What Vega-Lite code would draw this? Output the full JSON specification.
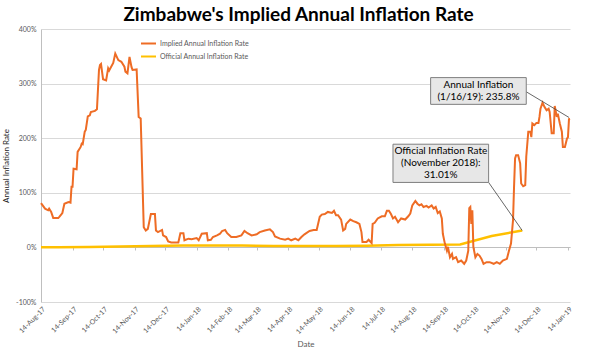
{
  "$schema": "https://vega.github.io/schema/vega-lite/v6.json",
  "width": 529,
  "height": 273,
  "autosize": {"type": "none"},
  "padding": {"left": 41, "top": 29, "right": 30, "bottom": 52},
  "background": "white",
  "title": {"text": "Zimbabwe's Implied Annual Inflation Rate", "font": "Lato", "fontSize": 19, "fontWeight": "bold", "color": "#000000", "anchor": "middle", "offset": 0, "dx": -7},
  "config": {
    "view": {"stroke": null},
    "font": "Lato",
    "axis": {"labelFont": "Lato", "titleFont": "Lato", "labelColor": "#595959", "titleColor": "#595959", "labelFontSize": 7, "titleFontSize": 8, "titleFontWeight": "normal"}
  },
  "datasets": {
    "implied": [
      {"date": "2017-08-14", "rate": 81}, {"date": "2017-08-18", "rate": 71}, {"date": "2017-08-21", "rate": 68}, {"date": "2017-08-22", "rate": 71},
      {"date": "2017-08-24", "rate": 65}, {"date": "2017-08-26", "rate": 54}, {"date": "2017-08-31", "rate": 54}, {"date": "2017-09-01", "rate": 56},
      {"date": "2017-09-04", "rate": 63}, {"date": "2017-09-06", "rate": 80}, {"date": "2017-09-10", "rate": 83}, {"date": "2017-09-12", "rate": 82},
      {"date": "2017-09-13", "rate": 111}, {"date": "2017-09-14", "rate": 111}, {"date": "2017-09-15", "rate": 144}, {"date": "2017-09-18", "rate": 143},
      {"date": "2017-09-19", "rate": 175}, {"date": "2017-09-22", "rate": 184}, {"date": "2017-09-23", "rate": 190}, {"date": "2017-09-24", "rate": 189},
      {"date": "2017-09-26", "rate": 212}, {"date": "2017-09-27", "rate": 215}, {"date": "2017-09-29", "rate": 240}, {"date": "2017-10-01", "rate": 242},
      {"date": "2017-10-02", "rate": 248}, {"date": "2017-10-06", "rate": 250}, {"date": "2017-10-08", "rate": 253}, {"date": "2017-10-10", "rate": 325},
      {"date": "2017-10-11", "rate": 334}, {"date": "2017-10-12", "rate": 336}, {"date": "2017-10-14", "rate": 308}, {"date": "2017-10-17", "rate": 306},
      {"date": "2017-10-19", "rate": 328}, {"date": "2017-10-20", "rate": 324}, {"date": "2017-10-24", "rate": 338}, {"date": "2017-10-26", "rate": 355},
      {"date": "2017-10-29", "rate": 343}, {"date": "2017-11-01", "rate": 340}, {"date": "2017-11-04", "rate": 331}, {"date": "2017-11-05", "rate": 322},
      {"date": "2017-11-07", "rate": 319}, {"date": "2017-11-09", "rate": 349}, {"date": "2017-11-11", "rate": 330}, {"date": "2017-11-12", "rate": 325},
      {"date": "2017-11-16", "rate": 326}, {"date": "2017-11-18", "rate": 239}, {"date": "2017-11-20", "rate": 236}, {"date": "2017-11-23", "rate": 37},
      {"date": "2017-11-25", "rate": 31}, {"date": "2017-11-27", "rate": 34}, {"date": "2017-11-30", "rate": 61}, {"date": "2017-12-04", "rate": 61},
      {"date": "2017-12-05", "rate": 31}, {"date": "2017-12-07", "rate": 28}, {"date": "2017-12-11", "rate": 32}, {"date": "2017-12-12", "rate": 22},
      {"date": "2017-12-15", "rate": 19}, {"date": "2017-12-17", "rate": 11}, {"date": "2017-12-20", "rate": 9}, {"date": "2017-12-27", "rate": 9},
      {"date": "2017-12-29", "rate": 26}, {"date": "2018-01-01", "rate": 26}, {"date": "2018-01-02", "rate": 13}, {"date": "2018-01-06", "rate": 16},
      {"date": "2018-01-09", "rate": 15}, {"date": "2018-01-14", "rate": 17}, {"date": "2018-01-16", "rate": 13}, {"date": "2018-01-19", "rate": 25},
      {"date": "2018-01-24", "rate": 26}, {"date": "2018-01-25", "rate": 13}, {"date": "2018-01-28", "rate": 14}, {"date": "2018-01-30", "rate": 19},
      {"date": "2018-02-03", "rate": 22}, {"date": "2018-02-06", "rate": 25}, {"date": "2018-02-08", "rate": 30}, {"date": "2018-02-11", "rate": 32},
      {"date": "2018-02-13", "rate": 26}, {"date": "2018-02-17", "rate": 19}, {"date": "2018-02-22", "rate": 19}, {"date": "2018-02-27", "rate": 22},
      {"date": "2018-03-02", "rate": 30}, {"date": "2018-03-05", "rate": 26}, {"date": "2018-03-09", "rate": 22}, {"date": "2018-03-14", "rate": 24},
      {"date": "2018-03-17", "rate": 28}, {"date": "2018-03-22", "rate": 31}, {"date": "2018-03-27", "rate": 33}, {"date": "2018-03-30", "rate": 28},
      {"date": "2018-04-01", "rate": 20}, {"date": "2018-04-06", "rate": 16}, {"date": "2018-04-11", "rate": 14}, {"date": "2018-04-14", "rate": 16},
      {"date": "2018-04-17", "rate": 13}, {"date": "2018-04-21", "rate": 16}, {"date": "2018-04-24", "rate": 13}, {"date": "2018-04-27", "rate": 19},
      {"date": "2018-04-30", "rate": 24}, {"date": "2018-05-05", "rate": 30}, {"date": "2018-05-09", "rate": 32}, {"date": "2018-05-12", "rate": 32},
      {"date": "2018-05-15", "rate": 56}, {"date": "2018-05-17", "rate": 60}, {"date": "2018-05-20", "rate": 61}, {"date": "2018-05-23", "rate": 65},
      {"date": "2018-05-27", "rate": 63}, {"date": "2018-05-29", "rate": 67}, {"date": "2018-05-31", "rate": 59}, {"date": "2018-06-02", "rate": 59},
      {"date": "2018-06-05", "rate": 51}, {"date": "2018-06-07", "rate": 31}, {"date": "2018-06-09", "rate": 34}, {"date": "2018-06-10", "rate": 43},
      {"date": "2018-06-14", "rate": 51}, {"date": "2018-06-17", "rate": 48}, {"date": "2018-06-20", "rate": 46}, {"date": "2018-06-23", "rate": 43},
      {"date": "2018-06-25", "rate": 28}, {"date": "2018-06-26", "rate": 10}, {"date": "2018-06-30", "rate": 10}, {"date": "2018-07-02", "rate": 14},
      {"date": "2018-07-05", "rate": 8}, {"date": "2018-07-06", "rate": 43}, {"date": "2018-07-08", "rate": 45}, {"date": "2018-07-11", "rate": 53},
      {"date": "2018-07-15", "rate": 57}, {"date": "2018-07-18", "rate": 57}, {"date": "2018-07-20", "rate": 67}, {"date": "2018-07-22", "rate": 67},
      {"date": "2018-07-24", "rate": 61}, {"date": "2018-07-26", "rate": 53}, {"date": "2018-07-28", "rate": 56}, {"date": "2018-07-31", "rate": 46},
      {"date": "2018-08-03", "rate": 53}, {"date": "2018-08-07", "rate": 51}, {"date": "2018-08-10", "rate": 57}, {"date": "2018-08-12", "rate": 62},
      {"date": "2018-08-14", "rate": 77}, {"date": "2018-08-17", "rate": 85}, {"date": "2018-08-19", "rate": 80}, {"date": "2018-08-21", "rate": 77},
      {"date": "2018-08-23", "rate": 79}, {"date": "2018-08-25", "rate": 74}, {"date": "2018-08-28", "rate": 76}, {"date": "2018-08-30", "rate": 73},
      {"date": "2018-09-02", "rate": 77}, {"date": "2018-09-04", "rate": 71}, {"date": "2018-09-06", "rate": 74}, {"date": "2018-09-08", "rate": 63},
      {"date": "2018-09-10", "rate": 66}, {"date": "2018-09-12", "rate": 53}, {"date": "2018-09-13", "rate": 25}, {"date": "2018-09-15", "rate": 7},
      {"date": "2018-09-17", "rate": -6}, {"date": "2018-09-18", "rate": 1}, {"date": "2018-09-20", "rate": -18}, {"date": "2018-09-22", "rate": -12},
      {"date": "2018-09-23", "rate": -21}, {"date": "2018-09-26", "rate": -18}, {"date": "2018-09-28", "rate": -27}, {"date": "2018-10-01", "rate": -24},
      {"date": "2018-10-04", "rate": -30}, {"date": "2018-10-06", "rate": -24}, {"date": "2018-10-08", "rate": -6}, {"date": "2018-10-09", "rate": 72},
      {"date": "2018-10-10", "rate": 74}, {"date": "2018-10-11", "rate": 43}, {"date": "2018-10-12", "rate": 68}, {"date": "2018-10-13", "rate": 1},
      {"date": "2018-10-15", "rate": -18}, {"date": "2018-10-17", "rate": -12}, {"date": "2018-10-19", "rate": -15}, {"date": "2018-10-21", "rate": -21},
      {"date": "2018-10-23", "rate": -30}, {"date": "2018-10-26", "rate": -27}, {"date": "2018-10-29", "rate": -27}, {"date": "2018-11-02", "rate": -30},
      {"date": "2018-11-05", "rate": -27}, {"date": "2018-11-08", "rate": -30}, {"date": "2018-11-11", "rate": -24}, {"date": "2018-11-15", "rate": -21},
      {"date": "2018-11-17", "rate": -6}, {"date": "2018-11-19", "rate": 7}, {"date": "2018-11-21", "rate": 50}, {"date": "2018-11-22", "rate": 111},
      {"date": "2018-11-23", "rate": 163}, {"date": "2018-11-24", "rate": 169}, {"date": "2018-11-26", "rate": 169}, {"date": "2018-11-28", "rate": 154},
      {"date": "2018-11-29", "rate": 117}, {"date": "2018-12-01", "rate": 112}, {"date": "2018-12-03", "rate": 114}, {"date": "2018-12-04", "rate": 166},
      {"date": "2018-12-06", "rate": 212}, {"date": "2018-12-08", "rate": 212}, {"date": "2018-12-09", "rate": 202}, {"date": "2018-12-10", "rate": 227},
      {"date": "2018-12-12", "rate": 224}, {"date": "2018-12-14", "rate": 228}, {"date": "2018-12-16", "rate": 228}, {"date": "2018-12-17", "rate": 239},
      {"date": "2018-12-18", "rate": 254}, {"date": "2018-12-20", "rate": 265}, {"date": "2018-12-22", "rate": 257}, {"date": "2018-12-24", "rate": 251},
      {"date": "2018-12-26", "rate": 254}, {"date": "2018-12-27", "rate": 248}, {"date": "2018-12-29", "rate": 209}, {"date": "2018-12-31", "rate": 209},
      {"date": "2019-01-01", "rate": 259}, {"date": "2019-01-03", "rate": 239}, {"date": "2019-01-04", "rate": 245}, {"date": "2019-01-06", "rate": 227},
      {"date": "2019-01-08", "rate": 212}, {"date": "2019-01-09", "rate": 184}, {"date": "2019-01-11", "rate": 184}, {"date": "2019-01-13", "rate": 199},
      {"date": "2019-01-14", "rate": 202}, {"date": "2019-01-15", "rate": 235}, {"date": "2019-01-16", "rate": 235.8}
    ],
    "official": [
      {"date": "2017-08-14", "rate": 0.1}, {"date": "2017-08-31", "rate": 0.14}, {"date": "2017-09-30", "rate": 0.78}, {"date": "2017-10-31", "rate": 1.5},
      {"date": "2017-11-30", "rate": 2.5}, {"date": "2017-12-31", "rate": 3.46}, {"date": "2018-01-31", "rate": 3.52}, {"date": "2018-02-28", "rate": 3.4},
      {"date": "2018-03-31", "rate": 2.68}, {"date": "2018-04-30", "rate": 2.71}, {"date": "2018-05-31", "rate": 2.7}, {"date": "2018-06-30", "rate": 2.91},
      {"date": "2018-07-31", "rate": 4.29}, {"date": "2018-08-31", "rate": 4.83}, {"date": "2018-09-30", "rate": 5.39}, {"date": "2018-10-31", "rate": 20.85},
      {"date": "2018-11-30", "rate": 31.01}
    ],
    "boxes": [
      {"start": "2018-09-01", "end": "2018-12-04", "low": 262, "high": 311},
      {"start": "2018-07-26", "end": "2018-10-28", "low": 119, "high": 189}
    ],
    "notes": [
      {"date": "2018-10-18", "rate": 297, "text": ["Annual Inflation", "(1/16/19): 235.8%"]},
      {"date": "2018-09-11", "rate": 176, "text": ["Official Inflation Rate", "(November 2018):", "31.01%"]}
    ],
    "arrows": [
      {"start": "2018-12-04", "end": "2019-01-15", "from": 285, "to": 238},
      {"start": "2018-10-28", "end": "2018-11-30", "from": 119, "to": 31.01}
    ]
  },
  "resolve": {"axis": {"x": "independent"}},
  "layer": [
    {
      "data": {"name": "official"},
      "mark": {"type": "line", "strokeWidth": 2.5},
      "encoding": {
        "x": {"field": "date", "type": "temporal",
          "scale": {"type": "utc", "domain": [{"year": 2017, "month": 8, "date": 14, "utc": true}, {"year": 2019, "month": 1, "date": 16, "utc": true}]},
          "axis": {"orient": "bottom", "offset": -55, "labels": false, "title": null, "grid": false, "domain": true, "domainColor": "#bfbfbf", "ticks": true, "tickColor": "#bfbfbf", "tickSize": 3,
            "values": [{"year": 2017, "month": 8, "date": 14, "utc": true}, {"year": 2017, "month": 9, "date": 14, "utc": true}, {"year": 2017, "month": 10, "date": 14, "utc": true}, {"year": 2017, "month": 11, "date": 14, "utc": true}, {"year": 2017, "month": 12, "date": 14, "utc": true}, {"year": 2018, "month": 1, "date": 14, "utc": true}, {"year": 2018, "month": 2, "date": 14, "utc": true}, {"year": 2018, "month": 3, "date": 14, "utc": true}, {"year": 2018, "month": 4, "date": 14, "utc": true}, {"year": 2018, "month": 5, "date": 14, "utc": true}, {"year": 2018, "month": 6, "date": 14, "utc": true}, {"year": 2018, "month": 7, "date": 14, "utc": true}, {"year": 2018, "month": 8, "date": 14, "utc": true}, {"year": 2018, "month": 9, "date": 14, "utc": true}, {"year": 2018, "month": 10, "date": 14, "utc": true}, {"year": 2018, "month": 11, "date": 14, "utc": true}, {"year": 2018, "month": 12, "date": 14, "utc": true}, {"year": 2019, "month": 1, "date": 14, "utc": true}]}},
        "y": {"field": "rate", "type": "quantitative",
          "scale": {"domain": [-100, 400], "nice": false},
          "axis": {"title": "Annual Inflation Rate", "titleColor": "#262626", "titlePadding": 5, "values": [-100, -50, 0, 50, 100, 150, 200, 250, 300, 350, 400], "labelExpr": "datum.value + '%'", "grid": true, "gridColor": "#d9d9d9", "ticks": false, "domain": true, "domainColor": "#bfbfbf", "labelPadding": 5}},
        "color": {"datum": "Official Annual Inflation Rate", "type": "nominal",
          "scale": {"domain": ["Implied Annual Inflation Rate", "Official Annual Inflation Rate"], "range": ["#EE6C25", "#FFC000"]},
          "legend": {"title": null, "orient": "none", "legendX": 99, "legendY": 6, "symbolType": "stroke", "symbolSize": 225, "symbolStrokeWidth": 2, "labelFontSize": 7, "labelColor": "#595959", "labelFont": "Lato", "rowPadding": -2, "labelOffset": 3, "padding": 0}}
      }
    },
    {
      "data": {"name": "implied"},
      "mark": {"type": "line", "strokeWidth": 2},
      "encoding": {
        "x": {"field": "date", "type": "temporal",
          "axis": {"orient": "bottom", "title": "Date", "format": "%d-%b-%y", "labelAngle": -45, "labelOverlap": false, "grid": false, "domain": false, "ticks": false, "labelPadding": 3, "titlePadding": 6,
            "values": [{"year": 2017, "month": 8, "date": 14, "utc": true}, {"year": 2017, "month": 9, "date": 14, "utc": true}, {"year": 2017, "month": 10, "date": 14, "utc": true}, {"year": 2017, "month": 11, "date": 14, "utc": true}, {"year": 2017, "month": 12, "date": 14, "utc": true}, {"year": 2018, "month": 1, "date": 14, "utc": true}, {"year": 2018, "month": 2, "date": 14, "utc": true}, {"year": 2018, "month": 3, "date": 14, "utc": true}, {"year": 2018, "month": 4, "date": 14, "utc": true}, {"year": 2018, "month": 5, "date": 14, "utc": true}, {"year": 2018, "month": 6, "date": 14, "utc": true}, {"year": 2018, "month": 7, "date": 14, "utc": true}, {"year": 2018, "month": 8, "date": 14, "utc": true}, {"year": 2018, "month": 9, "date": 14, "utc": true}, {"year": 2018, "month": 10, "date": 14, "utc": true}, {"year": 2018, "month": 11, "date": 14, "utc": true}, {"year": 2018, "month": 12, "date": 14, "utc": true}, {"year": 2019, "month": 1, "date": 14, "utc": true}]}},
        "y": {"field": "rate", "type": "quantitative"},
        "color": {"datum": "Implied Annual Inflation Rate", "type": "nominal"}
      }
    },
    {
      "data": {"name": "arrows"},
      "mark": {"type": "rule", "color": "#404040", "strokeWidth": 0.8},
      "encoding": {
        "x": {"field": "start", "type": "temporal", "axis": null},
        "x2": {"field": "end"},
        "y": {"field": "from", "type": "quantitative"},
        "y2": {"field": "to"}
      }
    },
    {
      "data": {"name": "boxes"},
      "mark": {"type": "rect", "fill": "#e7e7e7", "stroke": "#7f7f7f", "strokeWidth": 1},
      "encoding": {
        "x": {"field": "start", "type": "temporal", "axis": null},
        "x2": {"field": "end"},
        "y": {"field": "low", "type": "quantitative"},
        "y2": {"field": "high"}
      }
    },
    {
      "data": {"name": "notes"},
      "mark": {"type": "text", "font": "Lato", "fontSize": 10, "color": "#000000", "align": "center", "baseline": "middle", "lineHeight": 12},
      "encoding": {
        "x": {"field": "date", "type": "temporal", "axis": null},
        "y": {"field": "rate", "type": "quantitative"},
        "text": {"field": "text"}
      }
    },
    {
      "mark": {"type": "point", "shape": "triangle-up", "filled": true, "color": "#262626", "size": 22, "angle": 121, "opacity": 1},
      "encoding": {
        "x": {"datum": {"year": 2019, "month": 1, "date": 15, "utc": true}, "type": "temporal", "axis": null},
        "y": {"datum": 238, "type": "quantitative"}
      }
    },
    {
      "mark": {"type": "point", "shape": "triangle-up", "filled": true, "color": "#262626", "size": 22, "angle": 146, "opacity": 1},
      "encoding": {
        "x": {"datum": {"year": 2018, "month": 11, "date": 30, "utc": true}, "type": "temporal", "axis": null},
        "y": {"datum": 31.01, "type": "quantitative"}
      }
    }
  ]
}
